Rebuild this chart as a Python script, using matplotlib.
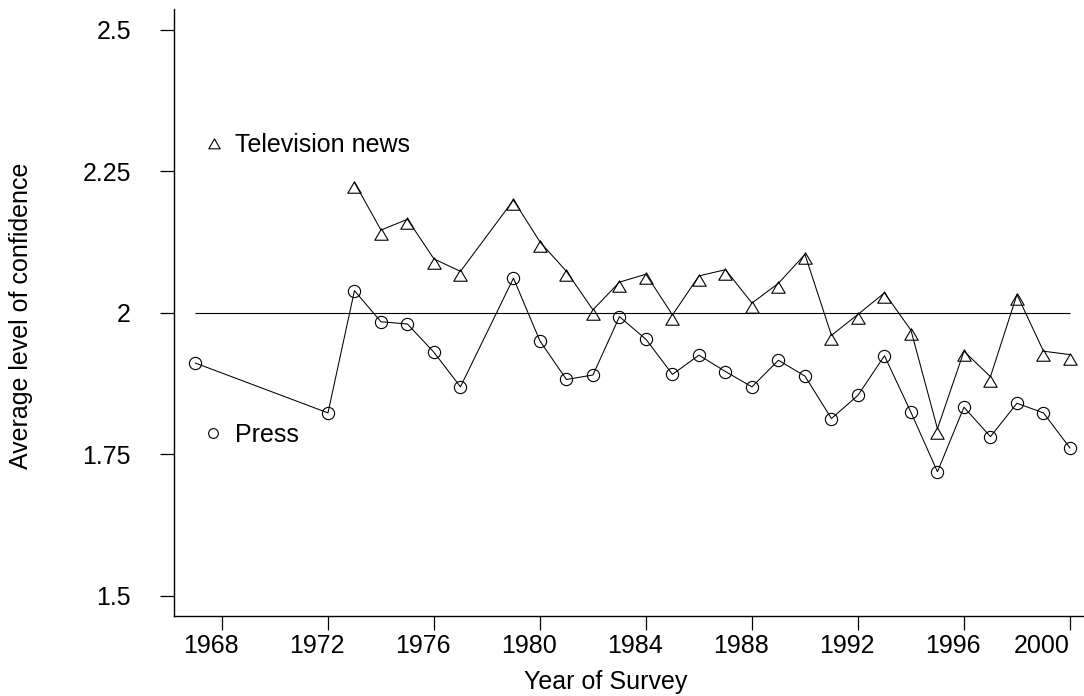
import matplotlib
matplotlib.use("Agg")
import matplotlib.pyplot as plt
from matplotlib.path import Path
from matplotlib.transforms import ScaledTranslation

plt.rcParams['font.family'] = ['Liberation Sans', 'DejaVu Sans']

# Average confidence in television news by survey year (no survey in 1978)
tv_years = [1973, 1974, 1975, 1976, 1977,
            1979, 1980, 1981, 1982, 1983, 1984, 1985, 1986, 1987, 1988, 1989,
            1990, 1991, 1992, 1993, 1994, 1995, 1996, 1997, 1998, 1999, 2000]
tv_conf = [2.230, 2.146, 2.165, 2.095, 2.073,
           2.199, 2.125, 2.073, 2.005, 2.054, 2.068, 1.996, 2.065, 2.076, 2.017, 2.052,
           2.103, 1.960, 1.997, 2.035, 1.969, 1.795, 1.932, 1.887, 2.032, 1.932, 1.926]

# Average confidence in the press by survey year
press_years = [1967, 1972, 1973, 1974, 1975, 1976, 1977,
               1979, 1980, 1981, 1982, 1983, 1984, 1985, 1986, 1987, 1988, 1989,
               1990, 1991, 1992, 1993, 1994, 1995, 1996, 1997, 1998, 1999, 2000]
press_conf = [1.911, 1.823, 2.039, 1.984, 1.980, 1.930, 1.869,
              2.061, 1.950, 1.882, 1.890, 1.993, 1.953, 1.891, 1.925, 1.896, 1.869, 1.916,
              1.888, 1.813, 1.854, 1.924, 1.824, 1.719, 1.833, 1.781, 1.840, 1.823, 1.761]

reference_level = 2.0

x_ticks = [1968, 1972, 1976, 1980, 1984, 1988, 1992, 1996, 2000]
y_ticks = [1.5, 1.75, 2.0, 2.25, 2.5]
y_tick_labels = ['1.5', '1.75', '2', '2.25', '2.5']

# open triangle whose anchor point sits just below its apex
tri_point = Path([(-1.0, -1.45), (1.0, -1.45), (0.0, 0.25), (-1.0, -1.45)],
                 [Path.MOVETO, Path.LINETO, Path.LINETO, Path.CLOSEPOLY])
# small centred triangle for the key
tri_key = Path([(-1.0, -0.577), (1.0, -0.577), (0.0, 1.155), (-1.0, -0.577)],
               [Path.MOVETO, Path.LINETO, Path.LINETO, Path.CLOSEPOLY])

fig = plt.figure(figsize=(10.84, 6.96), dpi=100)
ax = fig.add_axes([174 / 1084, 1 - 615.7 / 696, 910 / 1084, 606.4 / 696])

ax.hlines(reference_level, press_years[0], press_years[-1], color='black', lw=0.8)
ax.plot(tv_years, tv_conf, color='black', lw=0.75, marker=tri_point, markersize=14,
        markerfacecolor='none', markeredgecolor='black', markeredgewidth=0.8)
ax.plot(press_years, press_conf, color='black', lw=0.75, marker='o', markersize=8.8,
        markerfacecolor='none', markeredgecolor='black', markeredgewidth=0.8)

ax.set_xlim(1966.19, 2000.53)
ax.set_ylim(1.4647, 2.536)

for s in ['top', 'right']:
    ax.spines[s].set_visible(False)
for s in ['left', 'bottom']:
    ax.spines[s].set_linewidth(1.0)

ax.set_xticks(x_ticks)
ax.set_xticklabels([str(y) for y in x_ticks])
ax.set_yticks(y_ticks)
ax.set_yticklabels(y_tick_labels)
ax.tick_params(axis='both', direction='out', length=10, width=0.9, labelsize=18,
               colors='black')
ax.tick_params(axis='x', pad=3)
ax.tick_params(axis='y', pad=21)

shift = ScaledTranslation(-0.11, 0, fig.dpi_scale_trans)
xlabels = ax.get_xticklabels()
for lab in xlabels[:-1]:
    lab.set_transform(lab.get_transform() + shift)
xlabels[-1].set_horizontalalignment('right')

# series key
ax.plot([0.044], [0.776], transform=ax.transAxes, marker=tri_key, markersize=9.5,
        markerfacecolor='none', markeredgecolor='black', markeredgewidth=0.8,
        clip_on=False)
ax.text(0.067, 0.764, 'Television news', transform=ax.transAxes, fontsize=18,
        va='baseline', ha='left')
ax.plot([0.043], [0.301], transform=ax.transAxes, marker='o', markersize=7,
        markerfacecolor='none', markeredgecolor='black', markeredgewidth=0.8,
        clip_on=False)
ax.text(0.067, 0.2865, 'Press', transform=ax.transAxes, fontsize=18,
        va='baseline', ha='left')

fig.text(606 / 1084, 1 - 689.3 / 696, 'Year of Survey', fontsize=18,
         ha='center', va='baseline')
fig.text(21.5 / 1084, 1 - 316 / 696, 'Average level of confidence', fontsize=18,
         rotation=90, ha='center', va='center')

fig.savefig('out.png', dpi=100)
